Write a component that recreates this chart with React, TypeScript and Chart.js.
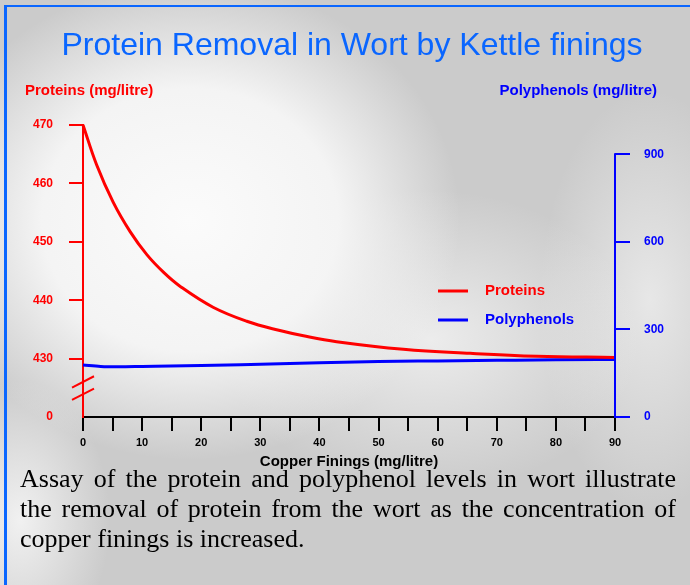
import React, { useEffect, useRef } from "react";
import { Chart, registerables } from "chart.js";

Chart.register(...registerables);

const TITLE = "Protein Removal in Wort by Kettle finings";
const LEFT_AXIS_TITLE = "Proteins (mg/litre)";
const RIGHT_AXIS_TITLE = "Polyphenols (mg/litre)";
const X_AXIS_TITLE = "Copper Finings (mg/litre)";
const CAPTION =
  "Assay of the protein and polyphenol levels in wort illustrate the removal of protein from the wort as the concentration of copper finings is increased.";

const SERIES_LABELS = ["Proteins", "Polyphenols"];

const PROTEIN_X = [0, 2.3, 5.1, 8, 10.8, 13.6, 16.4, 22, 27.7, 33.3, 37.3, 42.9, 54.2, 65.5, 76.8, 90];
const PROTEIN_VALUES = [
  470, 463.2, 456.8, 451.7, 447.8, 444.8, 442.4, 438.8, 436.4, 434.8, 433.9, 432.9, 431.6, 430.9, 430.4, 430.2,
];

const POLY_X = [0, 3, 6, 10, 20, 30, 40, 50, 60, 70, 80, 90];
const POLY_VALUES = [178, 173, 172, 173, 176, 181, 186, 190, 192, 194, 196, 197];

const X_TICKS = [0, 5, 10, 15, 20, 25, 30, 35, 40, 45, 50, 55, 60, 65, 70, 75, 80, 85, 90];
const LEFT_TICKS = [420, 430, 440, 450, 460, 470];
const LEFT_TICK_LABELS = ["0", "430", "440", "450", "460", "470"];
const RIGHT_TICKS = [0, 300, 600, 900];

const RED = "#ff0000";
const BLUE = "#0000ff";
const TITLE_BLUE = "#0a66ff";
const SANS = '"Liberation Sans", Arial, sans-serif';

const overlayPlugin = {
  id: "overlay",
  afterDraw(chart: any) {
    const { ctx, chartArea: a, scales } = chart;
    const y = scales.y;
    const y1 = scales.y1;
    ctx.save();

    // right axis line (0..900 only)
    ctx.strokeStyle = BLUE;
    ctx.lineWidth = 2;
    ctx.beginPath();
    ctx.moveTo(a.right, y1.getPixelForValue(RIGHT_TICKS[RIGHT_TICKS.length - 1]) - 1);
    ctx.lineTo(a.right, y1.getPixelForValue(0) + 1);
    ctx.stroke();

    // axis break marks on left axis
    ctx.strokeStyle = RED;
    ctx.lineWidth = 2;
    for (const v of [426, 423.9]) {
      const py = y.getPixelForValue(v);
      ctx.beginPath();
      ctx.moveTo(a.left - 11, py + 5.7);
      ctx.lineTo(a.left + 11, py - 5.7);
      ctx.stroke();
    }

    // main title
    ctx.fillStyle = TITLE_BLUE;
    ctx.font = `32px ${SANS}`;
    ctx.textAlign = "center";
    ctx.textBaseline = "alphabetic";
    ctx.fillText(TITLE, 352, 55);

    // axis titles
    ctx.font = `bold 15px ${SANS}`;
    ctx.fillStyle = RED;
    ctx.textAlign = "left";
    ctx.fillText(LEFT_AXIS_TITLE, 25, 95);
    ctx.fillStyle = BLUE;
    ctx.textAlign = "right";
    ctx.fillText(RIGHT_AXIS_TITLE, 657, 95);
    ctx.fillStyle = "#000";
    ctx.textAlign = "center";
    ctx.fillText(X_AXIS_TITLE, (a.left + a.right) / 2, 466);

    // legend
    const items = chart.data.datasets;
    const rows = [291, 320];
    items.forEach((ds: any, i: number) => {
      const ry = rows[i];
      ctx.strokeStyle = ds.borderColor;
      ctx.lineWidth = 3;
      ctx.beginPath();
      ctx.moveTo(438, ry);
      ctx.lineTo(468, ry);
      ctx.stroke();
      ctx.fillStyle = ds.borderColor;
      ctx.font = `bold 15px ${SANS}`;
      ctx.textAlign = "left";
      ctx.textBaseline = "middle";
      ctx.fillText(ds.label, 485, ry);
    });

    ctx.restore();
  },
};

export default function App() {
  const canvasRef = useRef<HTMLCanvasElement | null>(null);

  useEffect(() => {
    const canvas = canvasRef.current;
    if (!canvas) return;
    const chart = new Chart(canvas, {
      type: "line",
      data: {
        datasets: [
          {
            label: SERIES_LABELS[0],
            data: PROTEIN_X.map((x, i) => ({ x, y: PROTEIN_VALUES[i] })),
            borderColor: RED,
            backgroundColor: RED,
            borderWidth: 3,
            pointRadius: 0,
            tension: 0.4,
            yAxisID: "y",
            clip: false as any,
          },
          {
            label: SERIES_LABELS[1],
            data: POLY_X.map((x, i) => ({ x, y: POLY_VALUES[i] })),
            borderColor: BLUE,
            backgroundColor: BLUE,
            borderWidth: 3,
            pointRadius: 0,
            cubicInterpolationMode: "monotone",
            yAxisID: "y1",
            clip: false as any,
          },
        ],
      },
      options: {
        animation: false,
        responsive: false,
        maintainAspectRatio: false,
        devicePixelRatio: 1,
        layout: { padding: { top: 125, left: 0, right: 0, bottom: 0 } },
        plugins: {
          legend: { display: false },
          title: { display: false },
          tooltip: { enabled: false },
        },
        scales: {
          x: {
            type: "linear",
            position: "bottom",
            min: 0,
            max: 90,
            afterBuildTicks: (s: any) => {
              s.ticks = X_TICKS.map((v) => ({ value: v }));
            },
            afterFit: (s: any) => {
              s.height = 168;
            },
            ticks: {
              autoSkip: false,
              maxRotation: 0,
              color: "#000",
              font: { family: SANS, size: 11, weight: "bold" },
              padding: 5,
              callback: (v: any) => (Number(v) % 10 === 0 ? String(v) : ""),
            },
            grid: {
              drawOnChartArea: false,
              drawTicks: true,
              tickLength: 14,
              color: "#000",
              lineWidth: 2,
            },
            border: { display: true, color: "#000", width: 2 },
          },
          y: {
            type: "linear",
            position: "left",
            min: 420,
            max: 470,
            afterBuildTicks: (s: any) => {
              s.ticks = LEFT_TICKS.map((v) => ({ value: v }));
            },
            afterFit: (s: any) => {
              s.width = 83;
            },
            ticks: {
              color: RED,
              font: { family: SANS, size: 12, weight: "bold" },
              padding: 16,
              callback: (v: any) => {
                const i = LEFT_TICKS.indexOf(Number(v));
                return i >= 0 ? LEFT_TICK_LABELS[i] : "";
              },
            },
            grid: {
              drawOnChartArea: false,
              drawTicks: true,
              tickLength: 14,
              lineWidth: 2,
              color: (c: any) => (c.tick && c.tick.value === LEFT_TICKS[0] ? "rgba(0,0,0,0)" : RED),
            },
            border: { display: true, color: RED, width: 2 },
          },
          y1: {
            type: "linear",
            position: "right",
            min: 0,
            max: 1000,
            afterBuildTicks: (s: any) => {
              s.ticks = RIGHT_TICKS.map((v) => ({ value: v }));
            },
            afterFit: (s: any) => {
              s.width = 75;
            },
            ticks: {
              color: BLUE,
              font: { family: SANS, size: 12, weight: "bold" },
              padding: 14,
            },
            grid: {
              drawOnChartArea: false,
              drawTicks: true,
              tickLength: 15,
              lineWidth: 2,
              color: BLUE,
            },
            border: { display: false },
          },
        },
      },
      plugins: [overlayPlugin],
    } as any);
    return () => chart.destroy();
  }, []);

  const bg = [
    "radial-gradient(ellipse 270px 240px at 190px 220px, rgba(251,251,251,1) 0%, rgba(246,246,246,0.95) 55%, rgba(244,244,244,0) 100%)",
    "radial-gradient(ellipse 210px 150px at 430px 340px, rgba(240,240,240,0.9) 0%, rgba(240,240,240,0) 100%)",
    "radial-gradient(ellipse 110px 210px at 650px 300px, rgba(236,236,236,0.85) 0%, rgba(236,236,236,0) 100%)",
    "radial-gradient(ellipse 90px 140px at 20px 520px, rgba(245,245,245,0.9) 0%, rgba(245,245,245,0) 100%)",
    "#cbcbcb",
  ].join(", ");

  return (
    <div
      style={{
        position: "absolute",
        left: 0,
        top: 0,
        width: 690,
        height: 585,
        overflow: "hidden",
        background: bg,
      }}
    >
      <div
        style={{
          position: "absolute",
          left: 4,
          top: 5,
          width: 700,
          height: 600,
          borderLeft: `3px solid ${TITLE_BLUE}`,
          borderTop: `2px solid ${TITLE_BLUE}`,
          boxSizing: "border-box",
        }}
      />
      <canvas
        ref={canvasRef}
        width={690}
        height={585}
        style={{ position: "absolute", left: 0, top: 0, width: 690, height: 585 }}
      />
      <div
        style={{
          position: "absolute",
          left: 20,
          top: 464,
          width: 656,
          fontFamily: '"Liberation Serif", "Times New Roman", serif',
          fontSize: 26,
          lineHeight: "30px",
          textAlign: "justify",
          color: "#000",
        }}
      >
        {CAPTION}
      </div>
    </div>
  );
}
